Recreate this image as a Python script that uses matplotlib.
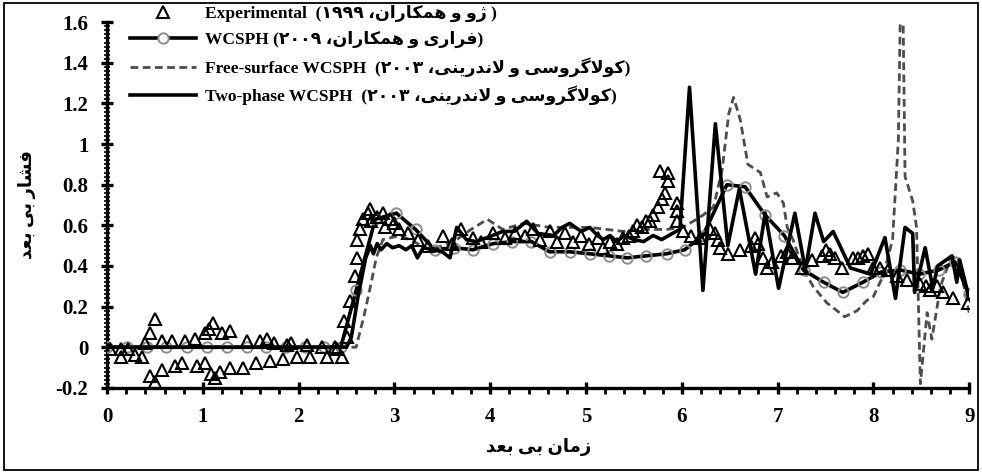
import re
import matplotlib
matplotlib.use('Agg')
import matplotlib.pyplot as plt
from matplotlib.ticker import MultipleLocator
from matplotlib.lines import Line2D
from matplotlib.patches import Rectangle

plt.rcParams['font.family'] = ['Liberation Serif', 'DejaVu Sans']
plt.rcParams['font.weight'] = 'bold'

# ---- Persian shaping (presentation forms, visual order) ----
FORMS = {
    'ا': ('\uFE8D', '\uFE8E', None, None),
    'ب': ('\uFE8F', '\uFE90', '\uFE91', '\uFE92'),
    'د': ('\uFEA9', '\uFEAA', None, None),
    'ر': ('\uFEAD', '\uFEAE', None, None),
    'ز': ('\uFEAF', '\uFEB0', None, None),
    'ژ': ('\uFB8A', '\uFB8B', None, None),
    'س': ('\uFEB1', '\uFEB2', '\uFEB3', '\uFEB4'),
    'ش': ('\uFEB5', '\uFEB6', '\uFEB7', '\uFEB8'),
    'ع': ('\uFEC9', '\uFECA', '\uFECB', '\uFECC'),
    'ف': ('\uFED1', '\uFED2', '\uFED3', '\uFED4'),
    'ک': ('\uFB8E', '\uFB8F', '\uFB90', '\uFB91'),
    'گ': ('\uFB92', '\uFB93', '\uFB94', '\uFB95'),
    'ل': ('\uFEDD', '\uFEDE', '\uFEDF', '\uFEE0'),
    'م': ('\uFEE1', '\uFEE2', '\uFEE3', '\uFEE4'),
    'ن': ('\uFEE5', '\uFEE6', '\uFEE7', '\uFEE8'),
    'ه': ('\uFEE9', '\uFEEA', '\uFEEB', '\uFEEC'),
    'و': ('\uFEED', '\uFEEE', None, None),
    'ی': ('\uFBFC', '\uFBFD', '\uFBFE', '\uFBFF'),
}

def rtl(s):
    out = []
    i = 0
    n = len(s)
    while i < n:
        c = s[i]
        if c not in FORMS:
            out.append(c)
            i += 1
            continue
        prev = s[i-1] if i > 0 else ''
        jp = prev in FORMS and FORMS[prev][2] is not None
        if c == 'ل' and i+1 < n and s[i+1] == 'ا':
            out.append('\uFEFC' if jp else '\uFEFB')
            i += 2
            continue
        nxt = s[i+1] if i+1 < n else ''
        jn = FORMS[c][2] is not None and nxt in FORMS
        iso, fin, ini, med = FORMS[c]
        out.append(med if (jp and jn) else fin if jp else ini if jn else iso)
        i += 1
    vis = ''.join(out)[::-1]
    return re.sub(r'[0-9\u06F0-\u06F9]+', lambda m: m.group(0)[::-1], vis)

# ---- data ----
exp_t = [0.03, 0.15, 0.15, 0.22, 0.29, 0.36, 0.40, 0.45, 0.45, 0.50, 0.50, 0.57, 0.57, 0.68,
         0.71, 0.78, 0.81, 0.92, 0.94, 1.02, 1.02, 1.06, 1.08, 1.11, 1.13, 1.18, 1.20, 1.28,
         1.28, 1.42, 1.46, 1.56, 1.60, 1.67, 1.70, 1.74, 1.84, 1.88, 1.92, 1.98, 2.09, 2.12,
         2.24, 2.30, 2.38, 2.45,
         2.40, 2.47, 2.50, 2.54, 2.59, 2.61, 2.61, 2.64, 2.67, 2.72, 2.75, 2.76, 2.82, 2.88,
         2.90, 2.95, 3.00, 3.05, 3.14, 3.25, 3.35, 3.51, 3.60, 3.69, 3.82, 3.90, 4.03, 4.15,
         4.26, 4.36, 4.45, 4.52, 4.62, 4.70, 4.78, 4.86, 4.95, 5.03, 5.12, 5.18, 5.25, 5.32,
         5.39, 5.45, 5.49, 5.53, 5.58, 5.63, 5.67, 5.70, 5.75, 5.77, 5.79, 5.82, 5.86, 5.86,
         5.95, 5.95, 5.95, 6.01, 6.10, 6.19, 6.29, 6.35, 6.38, 6.40, 6.48, 6.61, 6.72, 6.76,
         6.80, 6.85, 6.89, 6.94, 7.03, 7.10, 7.15, 7.25, 7.36, 7.46, 7.51, 7.55, 7.60, 7.67,
         7.79, 7.84, 7.89, 7.94, 8.00, 8.07, 8.15, 8.25, 8.35, 8.49, 8.55, 8.59, 8.66, 8.73,
         8.83, 8.99]
exp_p = [-0.01, -0.01, -0.05, -0.01, -0.04, -0.05, 0.02, 0.07, -0.14, 0.14, -0.17, 0.03, -0.11, 0.03,
         -0.09, -0.08, 0.03, 0.04, -0.09, 0.07, -0.08, 0.09, -0.13, 0.12, -0.15, -0.12, 0.07, 0.08,
         -0.10, -0.10, 0.03, -0.08, 0.03, 0.04, -0.07, 0.02, -0.06, 0.01, 0.02, -0.05, 0.01, -0.05,
         0.00, -0.05, 0.00, -0.05,
         -0.01, 0.13, 0.05, 0.23, 0.35, 0.44, 0.53, 0.58, 0.63, 0.66, 0.68, 0.62, 0.64, 0.66,
         0.59, 0.63, 0.61, 0.58, 0.56, 0.53, 0.50, 0.55, 0.51, 0.58, 0.54, 0.52, 0.56, 0.54,
         0.56, 0.55, 0.58, 0.53, 0.57, 0.52, 0.56, 0.52, 0.55, 0.51, 0.54, 0.49, 0.52, 0.51,
         0.54, 0.55, 0.57, 0.60, 0.59, 0.62, 0.62, 0.65, 0.69, 0.87, 0.73, 0.76, 0.86, 0.82,
         0.71, 0.67, 0.62, 0.57, 0.55, 0.54, 0.58, 0.56, 0.53, 0.49, 0.46, 0.48, 0.50, 0.54,
         0.51, 0.44, 0.39, 0.42, 0.45, 0.47, 0.44, 0.39, 0.43, 0.45, 0.48, 0.46, 0.44, 0.39,
         0.44, 0.44, 0.45, 0.46, 0.39, 0.39, 0.38, 0.35, 0.33, 0.31, 0.30, 0.28, 0.30, 0.27,
         0.24, 0.22]

wc_t = [0.0, 0.21, 0.42, 0.62, 0.83, 1.04, 1.25, 1.46, 1.66, 1.87, 2.07, 2.26, 2.44, 2.60,
        2.80, 3.02, 3.22, 3.42, 3.62, 3.82, 4.03, 4.23, 4.43, 4.62, 4.83, 5.04, 5.24, 5.43,
        5.63, 5.84, 6.03, 6.22, 6.47, 6.66, 6.87, 7.07, 7.27, 7.48, 7.68, 7.89, 8.08, 8.28,
        8.48, 8.68, 8.85, 9.0]
wc_p = [0.0, 0.0, 0.0, 0.0, 0.0, 0.0, 0.0, 0.0, 0.0, 0.0, 0.0, 0.0, 0.0, 0.28,
        0.63, 0.66, 0.58, 0.48, 0.49, 0.48, 0.51, 0.52, 0.52, 0.47, 0.47, 0.46, 0.45, 0.44,
        0.45, 0.46, 0.48, 0.55, 0.80, 0.79, 0.65, 0.55, 0.38, 0.32, 0.27, 0.32, 0.37, 0.38,
        0.36, 0.38, 0.42, 0.26]

fs_t = [0.0, 2.60, 2.68, 2.75, 2.81, 2.88, 3.06, 3.20, 3.37, 3.50, 3.65, 3.80, 3.97, 4.13,
        4.35, 4.62, 5.04, 5.39, 5.60, 5.84, 6.01, 6.19, 6.33, 6.42, 6.49, 6.54, 6.61, 6.69,
        6.82, 6.89, 6.99, 7.06, 7.10, 7.16, 7.27, 7.37, 7.51, 7.70, 7.83, 7.93, 8.00, 8.10,
        8.20, 8.26, 8.28, 8.31, 8.33, 8.41, 8.45, 8.49, 8.56, 8.61, 8.70, 8.80, 8.88, 9.00]
fs_p = [0.0, 0.0, 0.15, 0.30, 0.44, 0.53, 0.55, 0.52, 0.48, 0.50, 0.53, 0.58, 0.63, 0.58,
        0.61, 0.59, 0.59, 0.57, 0.58, 0.58, 0.59, 0.64, 0.69, 0.87, 1.15, 1.23, 1.12, 0.90,
        0.86, 0.74, 0.76, 0.71, 0.59, 0.53, 0.38, 0.30, 0.22, 0.15, 0.18, 0.23, 0.25, 0.35,
        0.53, 1.02, 1.62, 1.62, 0.84, 0.72, 0.59, -0.18, 0.17, 0.04, 0.30, 0.43, 0.45, 0.17]

tp_t = [0.0, 2.50, 2.55, 2.62, 2.70, 2.75, 2.78, 2.82, 2.86, 2.92, 2.98, 3.05, 3.12, 3.18,
        3.24, 3.30, 3.40, 3.50, 3.58, 3.65, 3.75, 3.85, 3.97, 4.13, 4.25, 4.38, 4.50, 4.66,
        4.75, 4.83, 4.95, 5.04, 5.12, 5.18, 5.25, 5.32, 5.40, 5.50, 5.60, 5.70, 5.79, 5.90,
        5.98, 6.08, 6.22, 6.35, 6.48, 6.60, 6.77, 6.87, 7.01, 7.18, 7.29, 7.39, 7.48, 7.58,
        7.76, 7.97, 8.12, 8.23, 8.33, 8.41, 8.43, 8.54, 8.62, 8.67, 8.82, 8.87, 8.90, 9.00]
tp_p = [0.0, 0.0, 0.05, 0.25, 0.44, 0.50, 0.46, 0.51, 0.48, 0.51, 0.49, 0.50, 0.48, 0.50,
        0.44, 0.49, 0.48, 0.47, 0.44, 0.59, 0.53, 0.52, 0.54, 0.57, 0.57, 0.62, 0.56, 0.55,
        0.59, 0.61, 0.57, 0.59, 0.55, 0.53, 0.55, 0.52, 0.55, 0.53, 0.52, 0.55, 0.53, 0.56,
        0.58, 1.28, 0.28, 1.10, 0.50, 0.78, 0.36, 0.66, 0.29, 0.66, 0.38, 0.66, 0.52, 0.57,
        0.39, 0.36, 0.54, 0.24, 0.59, 0.56, 0.27, 0.49, 0.29, 0.40, 0.45, 0.32, 0.43, 0.24]

lab_exp = 'Experimental  (' + rtl('ژو و همکاران، ۱۹۹۹') + ' )'
lab_wc = 'WCSPH (' + rtl('فراری و همکاران، ۲۰۰۹') + ')'
lab_fs = 'Free-surface WCSPH  (' + rtl('کولاگروسی و لاندرینی، ۲۰۰۳') + ')'
lab_tp = 'Two-phase WCSPH  (' + rtl('کولاگروسی و لاندرینی، ۲۰۰۳') + ')'

fig = plt.figure(figsize=(9.82, 4.73), dpi=100)
ax = fig.add_axes([0.109, 0.180, 0.878, 0.773])

ax.plot(wc_t, wc_p, '-', color='black', lw=2.6, marker='o', ms=7.5, mfc='none',
        mec='#8c8c8c', mew=1.4, zorder=3)
ax.plot(fs_t, fs_p, '--', color='#4d4d4d', lw=2.0, dashes=(2.8, 1.6), zorder=2)
ax.plot(tp_t, tp_p, '-', color='black', lw=2.6, zorder=4)
ax.plot(exp_t, exp_p, '^', ms=9, mfc='none', mec='black', mew=1.5, zorder=5)

ax.set_xlim(0, 9)
ax.set_ylim(-0.2, 1.6)
ax.xaxis.set_major_locator(MultipleLocator(1))
ax.xaxis.set_minor_locator(MultipleLocator(0.2))
ax.yaxis.set_minor_locator(MultipleLocator(0.02))
ax.set_yticks([-0.2, 0, 0.2, 0.4, 0.6, 0.8, 1.0, 1.2, 1.4, 1.6])
ax.set_yticklabels(['-0.2', '0', '0.2', '0.4', '0.6', '0.8', '1', '1.2', '1.4', '1.6'])

for s in ['top', 'right']:
    ax.spines[s].set_visible(False)
for s in ['left', 'bottom']:
    ax.spines[s].set_linewidth(2.4)
ax.tick_params(which='major', direction='inout', length=9, width=2.4, labelsize=15, pad=9)
ax.tick_params(axis='x', which='minor', direction='out', length=4, width=2.0)
ax.tick_params(axis='y', which='minor', direction='inout', length=4, width=1.2)
for lbl in ax.get_xticklabels() + ax.get_yticklabels():
    lbl.set_fontweight('bold')

ax.set_xlabel(rtl('زمان بی بعد'), fontsize=13, fontweight='bold', labelpad=8)
ax.set_ylabel(rtl('فشار بی بعد'), fontsize=13, fontweight='bold', labelpad=14)

handles = [
    Line2D([], [], ls='none', marker='^', ms=9, mfc='none', mec='black', mew=1.5),
    Line2D([], [], color='black', lw=2.6, marker='o', ms=7.5, mfc='white', mec='#8c8c8c', mew=1.4),
    Line2D([], [], color='#4d4d4d', lw=2.0, ls='--', dashes=(2.8, 1.6)),
    Line2D([], [], color='black', lw=2.6),
]
leg = fig.legend(handles, [lab_exp, lab_wc, lab_fs, lab_tp], loc='upper left',
                 bbox_to_anchor=(130 / 982, 1 - 5 / 473), frameon=False,
                 prop={'size': 12.5, 'weight': 'bold'}, handlelength=3.8,
                 handletextpad=0.5, labelspacing=0.52, borderpad=0, borderaxespad=0)
leg.set_zorder(20)

fig.patches.append(Rectangle((0.004, 0.006), 0.992, 0.988, transform=fig.transFigure,
                             fill=False, edgecolor='black', lw=1.3))

fig.savefig('out.png', dpi=100)
